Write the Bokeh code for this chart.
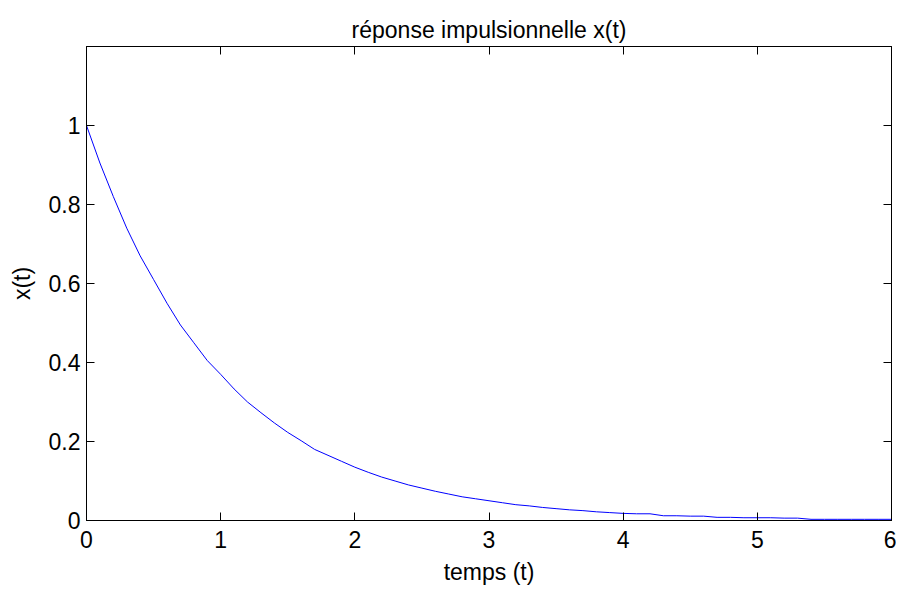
from bokeh.plotting import figure
from bokeh.models import LinearAxis, FixedTicker, Range1d, CustomJSTickFormatter
from bokeh.embed import file_html
from bokeh.resources import INLINE

# ---- data ----
t = [0.0, 0.1, 0.2, 0.3, 0.4, 0.5, 0.6, 0.7, 0.8, 0.9,
     1.0, 1.1, 1.2, 1.3, 1.4, 1.5, 1.6, 1.7, 1.8, 1.9,
     2.0, 2.1, 2.2, 2.3, 2.4, 2.5, 2.6, 2.7, 2.8, 2.9,
     3.0, 3.1, 3.2, 3.3, 3.4, 3.5, 3.6, 3.7, 3.8, 3.9,
     4.0, 4.1, 4.2, 4.3, 4.4, 4.5, 4.6, 4.7, 4.8, 4.9,
     5.0, 5.1, 5.2, 5.3, 5.4, 5.5, 5.6, 5.7, 5.8, 5.9, 6.0]
x_t = [1.00, 0.905, 0.82, 0.74, 0.67, 0.61, 0.55, 0.495, 0.45, 0.405,
       0.37, 0.333, 0.30, 0.273, 0.247, 0.223, 0.202, 0.18, 0.165, 0.15,
       0.135, 0.122, 0.11, 0.10, 0.09, 0.082, 0.074, 0.067, 0.06, 0.055,
       0.05, 0.045, 0.04, 0.037, 0.033, 0.03, 0.027, 0.025, 0.022, 0.02,
       0.018, 0.017, 0.017, 0.012, 0.012, 0.011, 0.011, 0.008, 0.008, 0.007,
       0.007, 0.007, 0.006, 0.006, 0.003, 0.003, 0.003, 0.003, 0.003, 0.003, 0.003]

xticks = [0, 1, 2, 3, 4, 5, 6]
xtick_labels = ["0", "1", "2", "3", "4", "5", "6"]
yticks = [0, 0.2, 0.4, 0.6, 0.8, 1.0]
ytick_labels = ["0", "0.2", "0.4", "0.6", "0.8", "1"]

title_text = "réponse impulsionnelle x(t)"
xlabel = "temps (t)"
ylabel = "x(t)"

FONT = "Liberation Sans"
FS = "23px"

p = figure(frame_width=805, frame_height=474,
           min_border_left=86, min_border_right=5,
           min_border_top=46, min_border_bottom=62,
           x_range=Range1d(0, 6), y_range=Range1d(0, 1.2),
           output_backend="svg", toolbar_location=None,
           x_axis_location="below", y_axis_location="left")

p.line(t, x_t, line_color="#0000ff", line_width=1)

p.title.text = title_text
p.title.align = "center"
p.title.vertical_align = "top"
p.title.text_font = FONT
p.title.text_font_size = FS
p.title.text_font_style = "normal"
p.title.text_color = "black"
p.title.standoff = 4

p.grid.visible = False
p.outline_line_color = "black"
p.outline_line_width = 1
p.background_fill_color = "white"
p.border_fill_color = "white"

xa = p.xaxis[0]
ya = p.yaxis[0]
xa.ticker = FixedTicker(ticks=xticks)
ya.ticker = FixedTicker(ticks=yticks)
xa.major_label_overrides = {v: s for v, s in zip(xticks, xtick_labels)}
ya.major_label_overrides = {v: s for v, s in zip(yticks, ytick_labels)}
xa.axis_label = xlabel
ya.axis_label = ylabel
for ax in (xa, ya):
    ax.major_tick_in = 8
    ax.major_tick_out = 0
    ax.minor_tick_line_color = None
    ax.major_tick_line_color = "black"
    ax.axis_line_color = "black"
    ax.major_label_text_font = FONT
    ax.major_label_text_font_size = FS
    ax.major_label_text_color = "black"
    ax.axis_label_text_font = FONT
    ax.axis_label_text_font_size = FS
    ax.axis_label_text_font_style = "normal"
    ax.axis_label_text_color = "black"
xa.major_label_standoff = 10
xa.axis_label_standoff = 8
ya.major_label_standoff = 6
ya.axis_label_standoff = 11

blank = CustomJSTickFormatter(code="return '';")
top = LinearAxis(ticker=FixedTicker(ticks=xticks), formatter=blank)
right = LinearAxis(ticker=FixedTicker(ticks=yticks), formatter=blank)
for ax in (top, right):
    ax.major_tick_in = 8
    ax.major_tick_out = 0
    ax.minor_tick_line_color = None
    ax.major_tick_line_color = "black"
    ax.axis_line_color = "black"
    ax.major_label_standoff = 0
    ax.major_label_text_font_size = "1px"
# the (label-less) top axis keeps some room, pushing the title up
top.major_label_standoff = 13
p.add_layout(top, "above")
p.add_layout(right, "right")

open("out.html", "w").write(file_html(p, INLINE))
